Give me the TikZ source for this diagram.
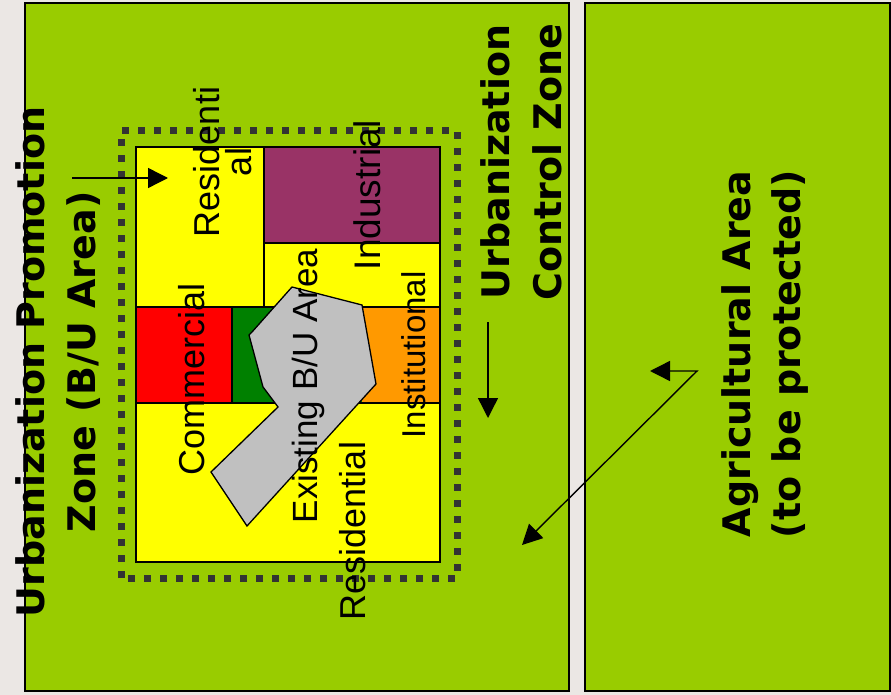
\documentclass[tikz,border=0pt]{standalone}
\usepackage{fontspec}
\setmainfont{Liberation Sans}
\newfontfamily\boldlabelfont{DejaVu Sans}[BoldFont={DejaVu Sans Bold}]
\usetikzlibrary{arrows.meta}

\definecolor{pagebg}{HTML}{EBE7E4}
\definecolor{zonegreen}{HTML}{99CC00}
\definecolor{resyellow}{HTML}{FFFF00}
\definecolor{indpurple}{HTML}{993366}
\definecolor{comred}{HTML}{FF0000}
\definecolor{parkgreen}{HTML}{008000}
\definecolor{instorange}{HTML}{FF9900}
\definecolor{builtgrey}{HTML}{C0C0C0}
\definecolor{dotgrey}{HTML}{333333}

\tikzset{
  zonepanel/.style={fill=zonegreen, draw=black, line width=1.6pt},
  landuse/.style={draw=black, line width=1.3pt},
  usetext/.style={rotate=90, anchor=base, inner sep=0pt, font=\fontsize{36}{32}\selectfont},
  zonetext/.style={rotate=90, align=center, inner sep=0pt,
    font=\boldlabelfont\bfseries\fontsize{38}{51}\selectfont},
  pointer/.style={draw=black, line width=1.4pt, -{Triangle[length=20pt,width=20pt]}},
  twopointer/.style={draw=black, line width=1.4pt,
    {Triangle[length=20pt,width=20pt]}-{Triangle[length=20pt,width=20pt]}},
}

\begin{document}
\begin{tikzpicture}[x=1pt, y=-1pt]
  % page
  \fill[pagebg] (0,0) rectangle (891,695);
  \useasboundingbox (0,0) rectangle (891,695);

  % the two zones
  \node[zonepanel, minimum width=544pt, minimum height=688pt, anchor=north west] (promo) at (24,2) {};
  \node[zonepanel, minimum width=305pt, minimum height=688pt, anchor=north west] (agri) at (584,2) {};

  % planned boundary (dotted)
  \draw[dotgrey, line width=7pt, dash pattern=on 7pt off 9pt] (121,578) -- (121,131) -- (457,131) -- (457,578) -- cycle;

  % land-use blocks
  \fill[resyellow] (136,147) rectangle (440,562);
  \fill[indpurple] (264,147) rectangle (440,243);
  \fill[comred] (136,307) rectangle (232,403);
  \fill[parkgreen] (232,307) rectangle (362,403);
  \fill[instorange] (362,307) rectangle (440,403);
  \draw[landuse] (136,147) rectangle (440,562);
  \draw[landuse] (264,147) -- (264,307);
  \draw[landuse] (264,243) -- (440,243);
  \draw[landuse] (136,307) -- (440,307);
  \draw[landuse] (136,403) -- (440,403);
  \draw[landuse] (232,307) -- (232,403);

  % existing built-up area
  \draw[landuse, fill=builtgrey] (292,287) -- (362,305) -- (376,384) -- (247,526)
    -- (211,472) -- (278,407) -- (263,387) -- (249,335) -- (252,332) -- cycle;

  % land-use labels
  \node[usetext, anchor=center, align=center] (restop) at (223,162) {Residenti\\al};
  \node[usetext, font=\fontsize{37}{32}\selectfont] (ind) at (380,195) {Industrial};
  \node[usetext] (com) at (204,379) {Commercial};
  \node[usetext, font=\fontsize{35}{32}\selectfont] (exist) at (317,386) {Existing B/U Area};
  \node[usetext, font=\fontsize{33}{32}\selectfont] (inst) at (425,355) {Institutional};
  \node[usetext] (resbot) at (365,531) {Residential};

  % zone labels
  \node[zonetext] (promolabel) at (58.5,362) {Urbanization Promotion\\Zone (B/U Area)};
  \node[zonetext, font=\boldlabelfont\bfseries\fontsize{38}{52}\selectfont] (ctrllabel) at (521.5,162) {Urbanization\\Control Zone};
  \node[zonetext, font=\boldlabelfont\bfseries\fontsize{38}{50}\selectfont] (agrilabel) at (765,354) {Agricultural Area\\(to be protected)};

  % pointers
  \coordinate (inA) at (72,178);
  \coordinate (inB) at (168,178);
  \draw[pointer] (inA) -- (inB);

  \coordinate (downA) at (488,322);
  \coordinate (downB) at (488,418);
  \draw[pointer] (downA) -- (downB);

  \coordinate (bendS) at (650,371);
  \coordinate (bendM) at (697,371);
  \coordinate (bendE) at (522,545);
  \draw[twopointer] (bendS) -- (bendM) -- (bendE);
\end{tikzpicture}
\end{document}
